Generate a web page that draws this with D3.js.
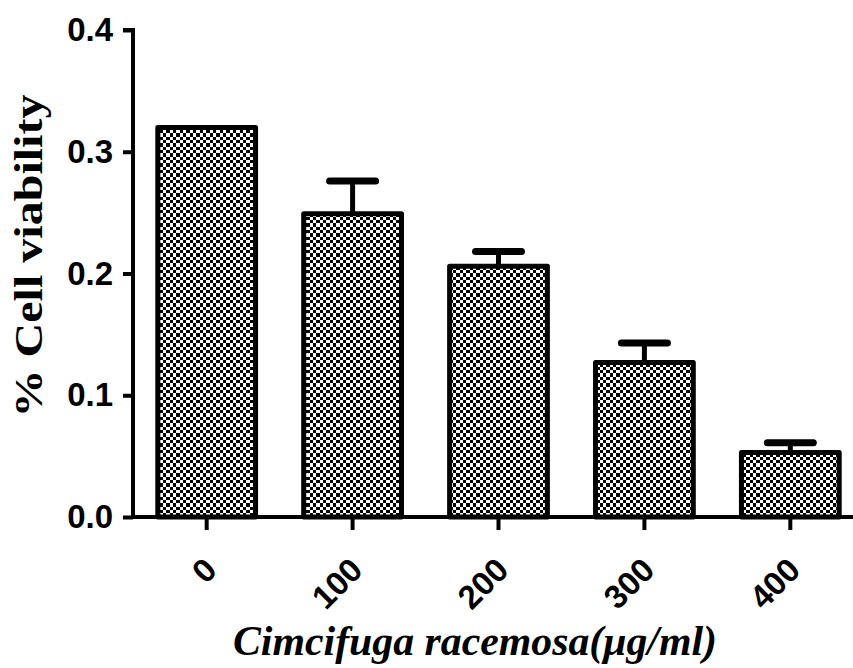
<!DOCTYPE html>
<html>
<head>
<meta charset="utf-8">
<script src="https://cdn.jsdelivr.net/npm/d3@7"></script>
<style>
  body { margin: 0; background: #fff; }
  svg { display: block; }
  .tick text { font-family: Arial, "Liberation Sans", sans-serif; font-weight: bold; font-size: 33px; fill: #000; }
</style>
</head>
<body>
<div id="chart"></div>
<script>
// data
var categories = ["0", "100", "200", "300", "400"]
var means = [0.320, 0.249, 0.206, 0.127, 0.053]
var errors = [0.0, 0.027, 0.012, 0.016, 0.008]
var yTicks = [0.0, 0.1, 0.2, 0.3, 0.4]

var width = 853, height = 668
var margin = {top: 30, right: 0, bottom: 151, left: 133}
var plotW = width - margin.left - margin.right
var plotH = height - margin.top - margin.bottom

var svg = d3.select("#chart").append("svg")
  .attr("width", width)
  .attr("height", height)

// checkerboard fill, cells snapped to whole pixels (~3.3px each)
var edges = [0, 3, 7, 10, 13, 17, 20]
var cells = []
for (var i = 0; i < 6; ++i) {
  for (var j = 0; j < 6; ++j) {
    if ((i + j) % 2 == 0) cells.push({i: i, j: j})
  }
}
var pat = svg.append("defs").append("pattern")
  .attr("id", "checker")
  .attr("patternUnits", "userSpaceOnUse")
  .attr("width", 20).attr("height", 20)
pat.append("rect").attr("width", 20).attr("height", 20).attr("fill", "#fff")
pat.selectAll("rect.c")
  .data(cells)
  .enter().append("rect")
  .attr("class", "c")
  .attr("x", function(d) { return edges[d.i] })
  .attr("y", function(d) { return edges[d.j] })
  .attr("width", function(d) { return edges[d.i + 1] - edges[d.i] })
  .attr("height", function(d) { return edges[d.j + 1] - edges[d.j] })
  .attr("fill", "#000")
  .attr("shape-rendering", "crispEdges")

var g = svg.append("g")
  .attr("transform", "translate(" + margin.left + "," + margin.top + ")")

var xScale = d3.scaleBand()
  .domain(categories)
  .range([0, 731])
  .paddingInner(0.33)
  .paddingOuter(0.17)

var yScale = d3.scaleLinear()
  .domain([0, 0.4])
  .range([plotH, 0])

// bars
g.selectAll(".bar")
  .data(means)
  .enter().append("rect")
  .attr("class", "bar")
  .attr("x", function(d, i) { return xScale(categories[i]) })
  .attr("y", function(d) { return yScale(d) })
  .attr("width", xScale.bandwidth())
  .attr("height", function(d) { return plotH - yScale(d) })
  .attr("fill", "url(#checker)")
  .attr("stroke", "#000")
  .attr("stroke-width", 5)
  .attr("stroke-linejoin", "round")

// error bars (upper only)
var errData = means.map(function(m, i) { return {c: categories[i], m: m, e: errors[i]} })
  .filter(function(d) { return d.e > 0 })

g.selectAll(".stem")
  .data(errData)
  .enter().append("line")
  .attr("x1", function(d) { return xScale(d.c) + xScale.bandwidth() / 2 })
  .attr("x2", function(d) { return xScale(d.c) + xScale.bandwidth() / 2 })
  .attr("y1", function(d) { return yScale(d.m) })
  .attr("y2", function(d) { return yScale(d.m + d.e) })
  .attr("stroke", "#000")
  .attr("stroke-width", 5)

g.selectAll(".cap")
  .data(errData)
  .enter().append("line")
  .attr("x1", function(d) { return xScale(d.c) + xScale.bandwidth() / 2 - 23 })
  .attr("x2", function(d) { return xScale(d.c) + xScale.bandwidth() / 2 + 23 })
  .attr("y1", function(d) { return yScale(d.m + d.e) })
  .attr("y2", function(d) { return yScale(d.m + d.e) })
  .attr("stroke", "#000")
  .attr("stroke-width", 7)
  .attr("stroke-linecap", "round")

// y axis
var yAxis = g.append("g")
  .call(d3.axisLeft(yScale).tickValues(yTicks).tickFormat(d3.format(".1f")).tickSize(10).tickPadding(10))
yAxis.select(".domain").attr("stroke-width", 4).attr("d", "M-10,0H0V" + plotH)
yAxis.selectAll(".tick line").attr("stroke-width", 4)

// x axis
var xAxis = g.append("g")
  .attr("transform", "translate(0," + plotH + ")")
  .call(d3.axisBottom(xScale).tickSize(13).tickPadding(0))
xAxis.select(".domain").attr("stroke-width", 4).attr("d", "M0,0H" + plotW)
xAxis.selectAll(".tick line").attr("stroke-width", 4)
xAxis.selectAll(".tick text")
  .attr("text-anchor", "end")
  .attr("dy", 0)
  .attr("y", 0)
  .attr("transform", "translate(12,55) rotate(-45)")

// axis titles
svg.append("text")
  .attr("transform", "translate(42,256) rotate(-90)")
  .attr("text-anchor", "middle")
  .attr("font-family", "'Liberation Serif', 'Times New Roman', serif")
  .attr("font-weight", "bold")
  .attr("font-size", 40)
  .attr("textLength", 323)
  .attr("lengthAdjust", "spacingAndGlyphs")
  .text("% Cell viability")

svg.append("text")
  .attr("x", 475)
  .attr("y", 655)
  .attr("text-anchor", "middle")
  .attr("font-family", "'Liberation Serif', 'Times New Roman', serif")
  .attr("font-weight", "bold")
  .attr("font-style", "italic")
  .attr("font-size", 42)
  .attr("textLength", 484)
  .attr("lengthAdjust", "spacingAndGlyphs")
  .text("Cimcifuga racemosa(μg/ml)")
</script>
</body>
</html>
